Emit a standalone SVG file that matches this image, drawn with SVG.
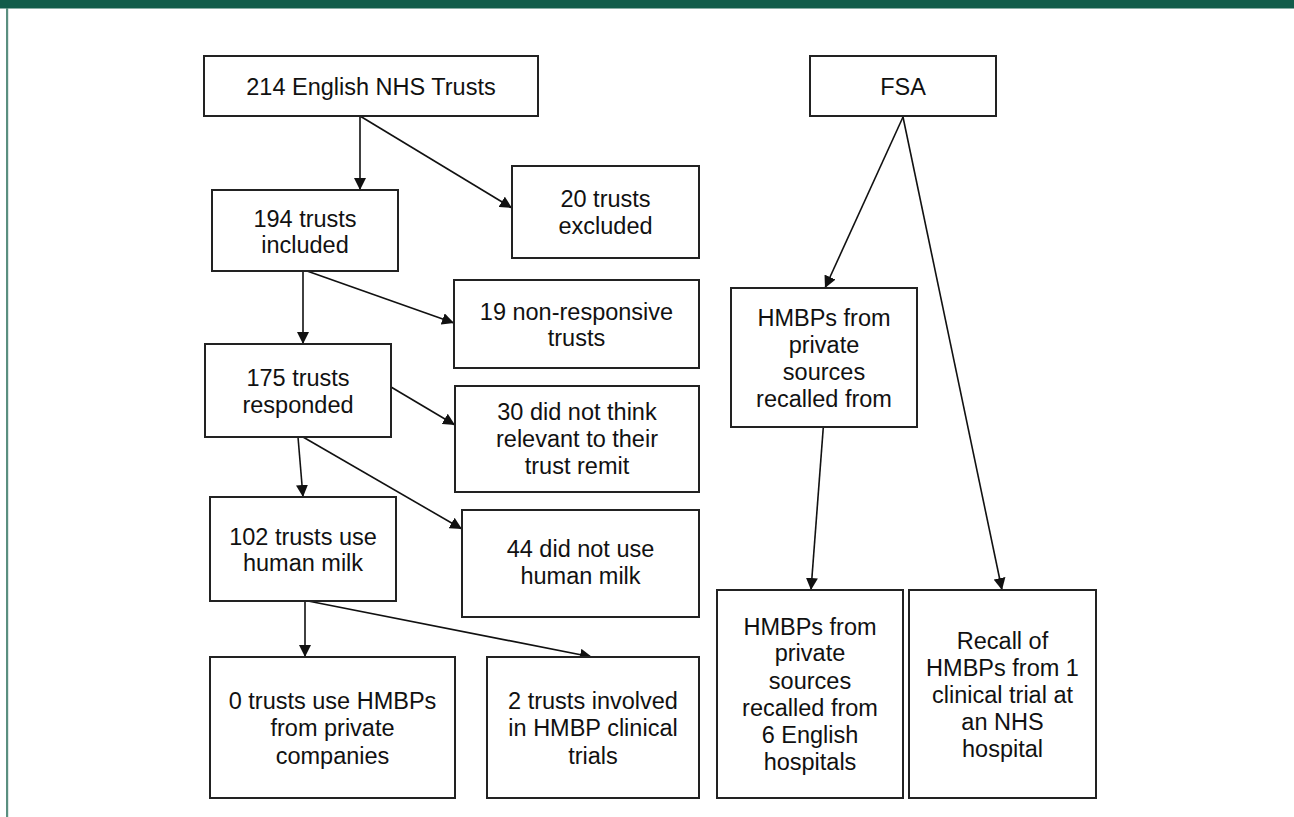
<svg xmlns="http://www.w3.org/2000/svg" width="1294" height="817" viewBox="0 0 1294 817">
<style>
.box{fill:#fff;stroke:#222;stroke-width:2}
.t{font-family:"Liberation Sans",Arial,sans-serif;font-size:23.5px;fill:#111;text-anchor:middle}
.c{stroke:#111;stroke-width:1.6;fill:none;marker-end:url(#ah)}
</style>
<defs>
<marker id="ah" markerUnits="userSpaceOnUse" markerWidth="12" markerHeight="12" viewBox="0 0 10 10" refX="10" refY="5" orient="auto">
<path d="M0,0 L10,5 L0,10 z" fill="#111"/>
</marker>
</defs>
<rect x="0" y="0" width="1294" height="817" fill="#fff"/>
<rect x="0" y="0" width="1294" height="8.5" fill="#115C4A"/>
<rect x="6" y="8" width="2.2" height="809" fill="#5A8F80"/>

<g id="connectors">
<line class="c" x1="360" y1="116" x2="360" y2="190"/>
<line class="c" x1="360" y1="116" x2="512" y2="208"/>
<line class="c" x1="303" y1="271" x2="303" y2="344"/>
<line class="c" x1="307" y1="271" x2="454" y2="323"/>
<line class="c" x1="391" y1="387" x2="455" y2="425"/>
<line class="c" x1="298" y1="437" x2="303" y2="497"/>
<line class="c" x1="303" y1="437" x2="462" y2="529"/>
<line class="c" x1="305" y1="601" x2="305" y2="657"/>
<line class="c" x1="308" y1="601" x2="592" y2="657"/>
<line class="c" x1="903" y1="117" x2="825" y2="288"/>
<line class="c" x1="903" y1="117" x2="1002" y2="590"/>
<line class="c" x1="824" y1="418" x2="811" y2="590"/>
</g>

<g id="n1"><rect class="box" x="204" y="56" width="334" height="60"/><text class="t" x="371" y="95">214 English NHS Trusts</text></g>
<g id="n2"><rect class="box" x="212" y="190" width="186" height="81"/><text class="t" x="305" y="227">194 trusts</text><text class="t" x="305" y="253">included</text></g>
<g id="n3"><rect class="box" x="512" y="166" width="187" height="92"/><text class="t" x="605.5" y="207">20 trusts</text><text class="t" x="605.5" y="233.5">excluded</text></g>
<g id="n4"><rect class="box" x="454" y="280" width="245" height="88"/><text class="t" x="576.5" y="319.5">19 non-responsive</text><text class="t" x="576.5" y="346">trusts</text></g>
<g id="n5"><rect class="box" x="205" y="344" width="186" height="93"/><text class="t" x="298" y="386">175 trusts</text><text class="t" x="298" y="413">responded</text></g>
<g id="n6"><rect class="box" x="455" y="386" width="244" height="106"/><text class="t" x="577" y="420">30 did not think</text><text class="t" x="577" y="447">relevant to their</text><text class="t" x="577" y="474">trust remit</text></g>
<g id="n7"><rect class="box" x="210" y="497" width="186" height="104"/><text class="t" x="303" y="544.5">102 trusts use</text><text class="t" x="303" y="571">human milk</text></g>
<g id="n8"><rect class="box" x="462" y="510" width="237" height="107"/><text class="t" x="580.5" y="557">44 did not use</text><text class="t" x="580.5" y="583.5">human milk</text></g>
<g id="n9"><rect class="box" x="210" y="657" width="245" height="141"/><text class="t" x="332.5" y="708.5">0 trusts use HMBPs</text><text class="t" x="332.5" y="736">from private</text><text class="t" x="332.5" y="763.5">companies</text></g>
<g id="n10"><rect class="box" x="487" y="657" width="212" height="141"/><text class="t" x="593" y="708.5">2 trusts involved</text><text class="t" x="593" y="736">in HMBP clinical</text><text class="t" x="593" y="763.5">trials</text></g>
<g id="n11"><rect class="box" x="810" y="56" width="186" height="60"/><text class="t" x="903" y="95">FSA</text></g>
<g id="n12"><rect class="box" x="731" y="288" width="186" height="139"/><text class="t" x="824" y="326">HMBPs from</text><text class="t" x="824" y="353">private</text><text class="t" x="824" y="380">sources</text><text class="t" x="824" y="407">recalled from</text></g>
<g id="n13"><rect class="box" x="717" y="590" width="186" height="208"/><text class="t" x="810" y="634.5">HMBPs from</text><text class="t" x="810" y="661">private</text><text class="t" x="810" y="688.5">sources</text><text class="t" x="810" y="716">recalled from</text><text class="t" x="810" y="743">6 English</text><text class="t" x="810" y="770">hospitals</text></g>
<g id="n14"><rect class="box" x="909" y="590" width="187" height="208"/><text class="t" x="1002.5" y="648.5">Recall of</text><text class="t" x="1002.5" y="675.5">HMBPs from 1</text><text class="t" x="1002.5" y="702.5">clinical trial at</text><text class="t" x="1002.5" y="730">an NHS</text><text class="t" x="1002.5" y="757">hospital</text></g>
</svg>
